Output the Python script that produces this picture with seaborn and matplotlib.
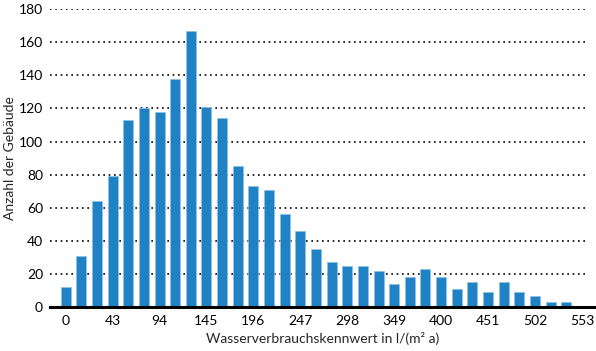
import numpy as np
import pandas as pd
import matplotlib
matplotlib.use("Agg")
import matplotlib.pyplot as plt
import seaborn as sns

# ── Data ────────────────────────────────────────────────────────────────
counts = [12, 31, 64, 79, 113, 120, 118, 138, 167, 121, 114, 85,
          73, 71, 56, 46, 35, 27, 25, 25, 22, 14, 18, 23, 18, 11,
          15, 9, 15, 9, 7, 3, 3, 0]
tick_labels = ["0", "43", "94", "145", "196", "247", "298", "349",
               "400", "451", "502", "553"]
tick_step = 3

df = pd.DataFrame({"bin": np.arange(len(counts)), "count": counts})

sns.set_theme(style="white")
plt.rcParams["font.family"] = ["Lato", "DejaVu Sans"]

fig = plt.figure(figsize=(5.96, 3.51), dpi=100)
ax = fig.add_axes([0.084, 0.125, 0.916, 0.849])

sns.barplot(data=df, x="bin", y="count", color="#1f82c4", saturation=1,
            width=0.64, edgecolor="#8fc0e6", linewidth=0.5, ax=ax, zorder=3)

ax.set_xlim(-1.0, 33.9)
ax.set_ylim(0, 180)
ax.set_yticks(range(0, 181, 20))
ax.set_xticks(range(0, len(tick_labels) * tick_step, tick_step))
ax.set_xticklabels(tick_labels)
ax.tick_params(axis="x", labelsize=10, length=0, pad=6, colors="black")
ax.tick_params(axis="y", labelsize=10, length=0, pad=5, colors="black")

for y in range(20, 181, 20):
    ax.axhline(y, xmin=0, xmax=0.985, color="black", linestyle=(0, (1, 2.2)),
               linewidth=1.2, zorder=1)

for s in ["left", "right", "top"]:
    ax.spines[s].set_visible(False)
ax.spines["bottom"].set_color("black")
ax.spines["bottom"].set_linewidth(2.2)
ax.spines["bottom"].set_zorder(4)

ax.set_xlabel("Wasserverbrauchskennwert in l/(m² a)", fontsize=10, labelpad=3)
ax.set_ylabel("Anzahl der Gebäude", fontsize=10, labelpad=2)

fig.savefig("out.png", dpi=100)
